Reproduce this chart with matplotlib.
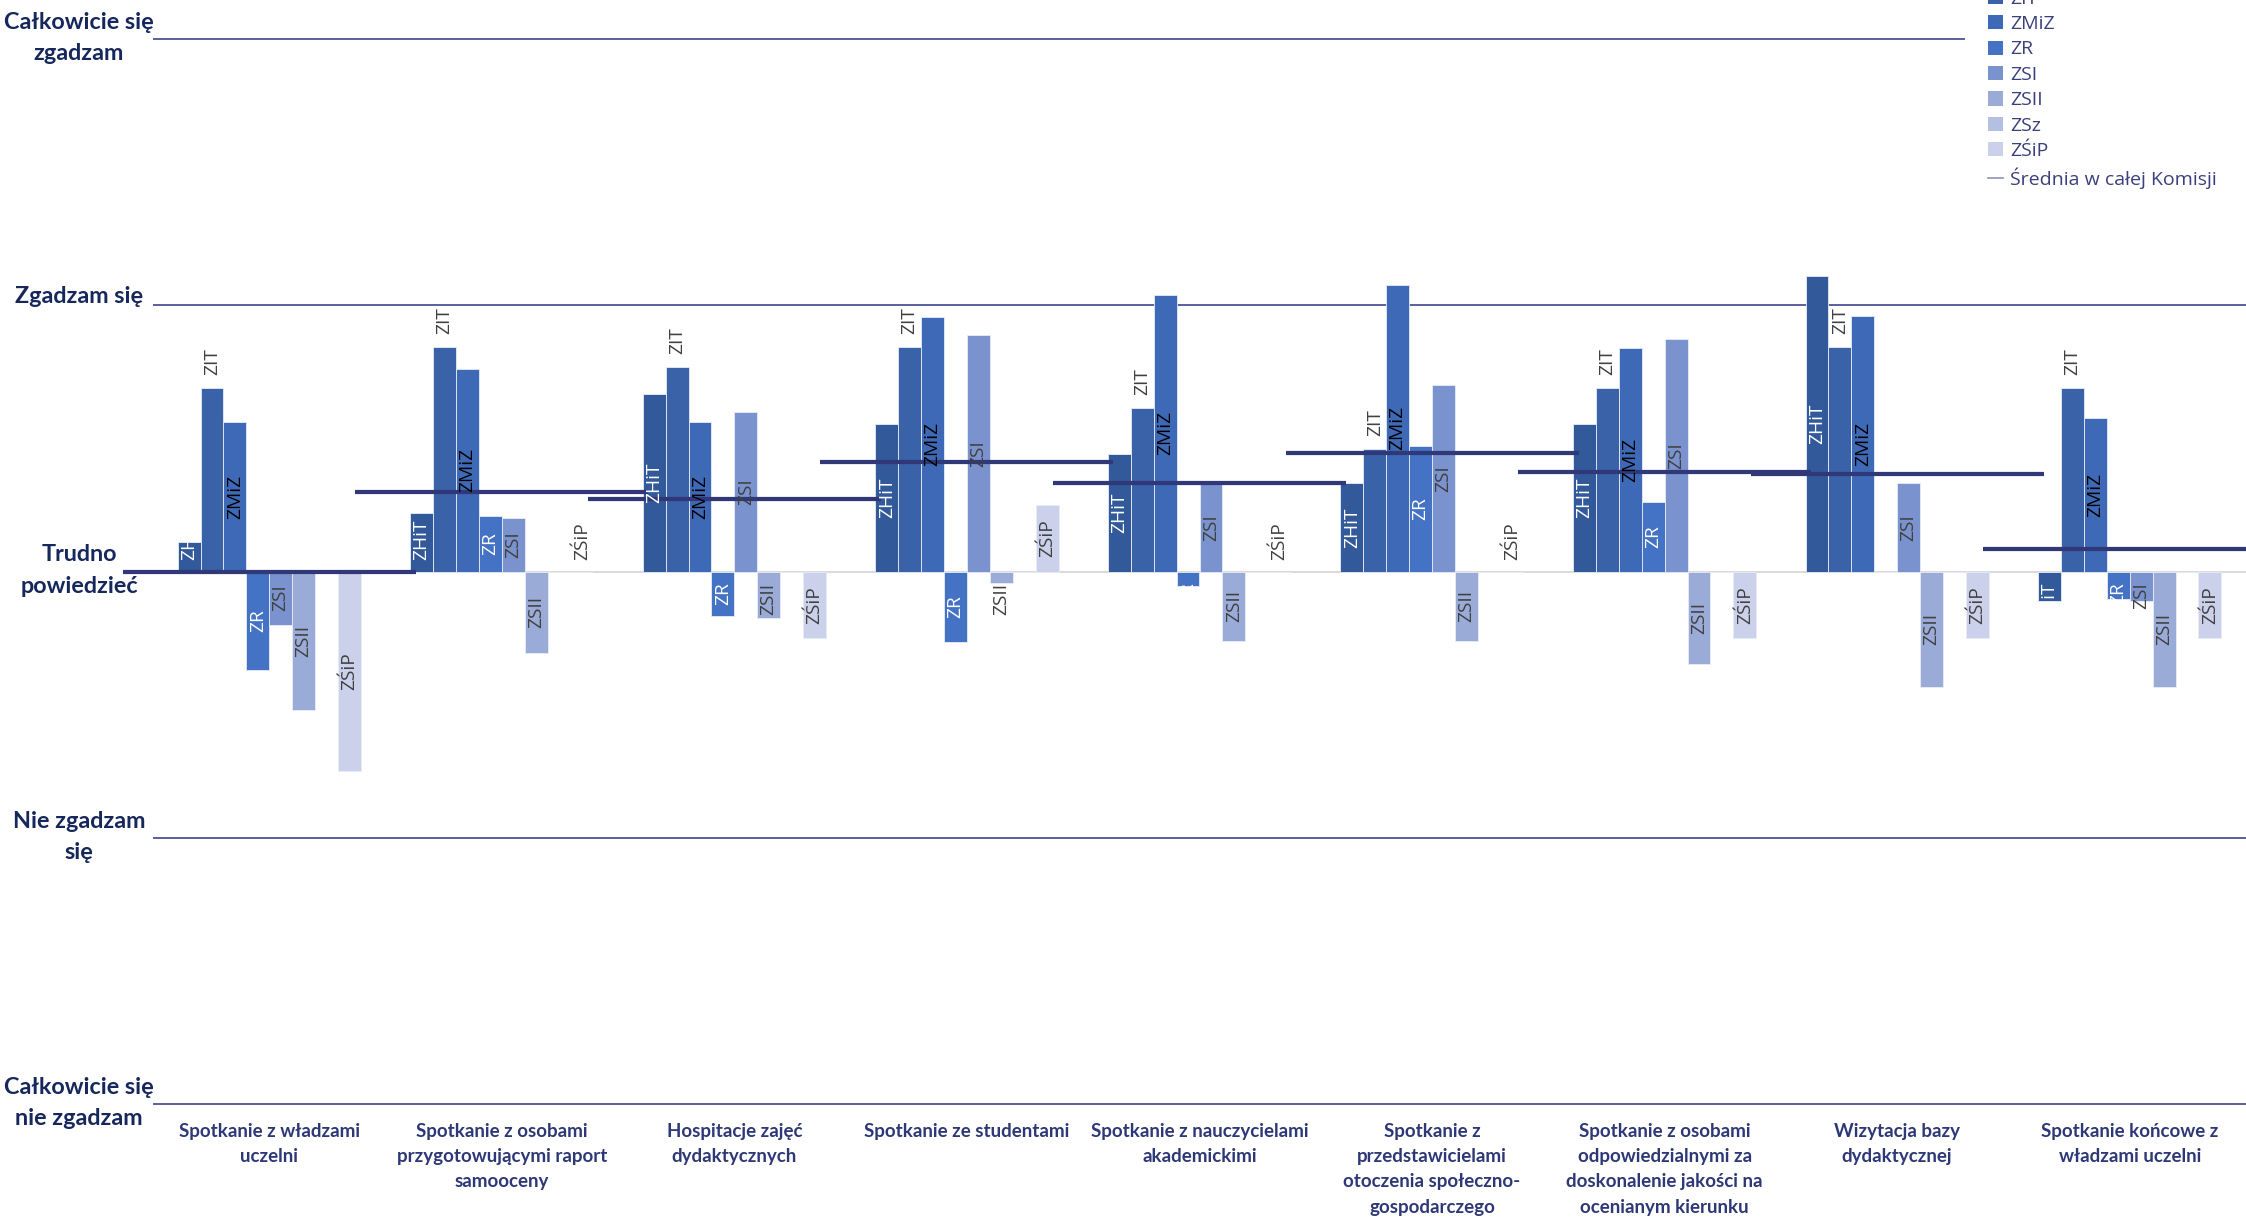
import matplotlib
matplotlib.use('Agg')
import matplotlib.pyplot as plt
import matplotlib.transforms as mtransforms
from matplotlib.patches import Patch
from matplotlib.lines import Line2D
import numpy as np

nan = np.nan

categories = ['Spotkanie z władzami\nuczelni',
              'Spotkanie z osobami\nprzygotowującymi raport\nsamooceny',
              'Hospitacje zajęć\ndydaktycznych',
              'Spotkanie ze studentami',
              'Spotkanie z nauczycielami\nakademickimi',
              'Spotkanie z\nprzedstawicielami\notoczenia społeczno-\ngospodarczego',
              'Spotkanie z osobami\nodpowiedzialnymi za\ndoskonalenie jakości na\nocenianym kierunku',
              'Wizytacja bazy\ndydaktycznej',
              'Spotkanie końcowe z\nwładzami uczelni']

series_names = ['ZHiT', 'ZIT', 'ZMiZ', 'ZR', 'ZSI', 'ZSII', 'ZSz', 'ZŚiP']
zhit = [0.11, 0.22, 0.665, 0.554, 0.443, 0.331, 0.554, 1.11, -0.11]
zit = [0.69, 0.845, 0.77, 0.845, 0.614, 0.46, 0.69, 0.845, 0.69]
zmiz = [0.56, 0.76, 0.56, 0.957, 1.038, 1.078, 0.838, 0.96, 0.575]
zr = [-0.37, 0.21, -0.167, -0.263, -0.053, 0.472, 0.262, nan, -0.105]
zsi = [-0.20, 0.20, 0.60, 0.887, 0.328, 0.70, 0.873, 0.331, -0.11]
zsii = [-0.52, -0.305, -0.174, -0.044, -0.26, -0.26, -0.348, -0.434, -0.434]
zsz = [nan, nan, nan, nan, nan, nan, nan, nan, nan]
zsip = [-0.75, 0.0, -0.25, 0.25, 0.0, 0.0, -0.249, -0.249, -0.249]
mean_all = [0.0, 0.30, 0.273, 0.413, 0.334, 0.446, 0.374, 0.367, 0.086]
mean_name = 'Średnia w całej Komisji'

level_values = [-2, -1, 0, 1, 2]
level_labels = ['Całkowicie się\nnie zgadzam', 'Nie zgadzam\nsię', 'Trudno\npowiedzieć',
                'Zgadzam się', 'Całkowicie się\nzgadzam']

series_values = [zhit, zit, zmiz, zr, zsi, zsii, zsz, zsip]
colors = ['#32599A', '#3962A8', '#3E69B6', '#4472C4', '#7A92CD', '#9AABD7', '#B4C0E2', '#CBD1EA']
text_colors = ['white', '#404040', 'black', 'white', '#404040', '#404040', '#404040', '#404040']
label_end = [False, True, False, False, False, False, False, False]

navy = '#16275C'
cat_color = '#2E3876'
grid_color = '#4B5394'
mean_color = '#303878'

W, H = 2246, 1219
dpi = 100
fig = plt.figure(figsize=(W / dpi, H / dpi), dpi=dpi)

unit_px = 266.2
ylim = 2.02
ax_h = 2 * ylim * unit_px
ax_bottom = 1 - (571.5 + ylim * unit_px) / H
left = 153 / W
ax = fig.add_axes([left, ax_bottom, 1 - left, ax_h / H])
ax.set_xlim(-0.5, 8.5)
ax.set_ylim(-ylim, ylim)
for s in ax.spines.values():
    s.set_visible(False)

x = np.arange(len(categories))
w = 0.0985
pt_per_px = 72 / dpi
lab_size = 13.8

# bars
bar_texts = []
for j, (name, vals) in enumerate(zip(series_names, series_values)):
    vals = np.array(vals, dtype=float)
    xs = x + (j - 3.5) * w
    ax.bar(xs, np.nan_to_num(vals), width=w, color=colors[j], edgecolor='#E8ECF6',
           linewidth=0.6, zorder=2)
    for xi, v in zip(xs, vals):
        if np.isnan(v):
            continue
        if label_end[j]:
            ax.annotate(name, xy=(xi, v), xytext=(0, 13 * pt_per_px), textcoords='offset points',
                        rotation=90, ha='center', va='bottom', color=text_colors[j],
                        fontsize=lab_size, family='Open Sans', zorder=5)
        else:
            t = ax.text(xi, v / 2, name, rotation=90, ha='center', va='center',
                        color=text_colors[j], fontsize=lab_size, family='Open Sans', zorder=5)
            bar_texts.append((t, xi, v))

# mean lines
ax.hlines(mean_all, x - 0.63, x + 0.63, color=mean_color, linewidth=4.2 * pt_per_px,
          zorder=3, clip_on=False)

# shift centered labels that do not fit away from zero
fig.canvas.draw()
r = fig.canvas.get_renderer()
gap = 11
for t, xi, v in bar_texts:
    L = t.get_window_extent(r).height
    half_bar = abs(v) * unit_px / 2
    if half_bar - L / 2 < gap:
        sign = -1 if v < 0 else 1
        t.remove()
        ax.annotate(t.get_text(), xy=(xi, 0), xytext=(0, sign * gap * pt_per_px),
                    textcoords='offset points', rotation=90, ha='center',
                    va='top' if sign < 0 else 'bottom', color=t.get_color(),
                    fontsize=lab_size, family='Open Sans', zorder=5)

# grid lines
ax.set_yticks(level_values)
ax.set_yticklabels([])
ax.yaxis.grid(True, color=grid_color, linewidth=1.3, zorder=0)
ax.get_ygridlines()[2].set_color('#D9D9D9')
ax.get_ygridlines()[2].set_linewidth(1.4)
ax.set_axisbelow(True)
ax.tick_params(axis='y', length=0)

# level names left of the plot
base_tr = mtransforms.blended_transform_factory(fig.transFigure, ax.transData)
for lv, txt in zip(level_values, level_labels):
    shift = 1 if '\n' in txt else 9
    tr = base_tr + mtransforms.ScaledTranslation(0, shift / dpi, fig.dpi_scale_trans)
    ax.text(79 / W, lv, txt, transform=tr, ha='center', va='center',
            multialignment='center', family='Lato', weight='bold', fontsize=16.8,
            color=navy, linespacing=1.6, clip_on=False)

ax.set_xticks(x)
ax.set_xticklabels(categories, family='Lato', weight='bold', fontsize=13.5, color=cat_color,
                   linespacing=1.58)
ax.tick_params(axis='x', length=0, pad=14 * pt_per_px)

# legend
handles = [Patch(facecolor=c, edgecolor='none') for c in colors]
handles.append(Line2D([0], [0], color='#8E94B5', linewidth=1.2))
fig.legend(handles, series_names + [mean_name], loc='lower left',
           bbox_to_anchor=(1955 / W, 1 - 222 / H, 1 - 1955 / W + 0.01, 0.2), mode='expand',
           frameon=True, facecolor='white',
           edgecolor='none', framealpha=1, fancybox=False, borderpad=1.2,
           handlelength=0.75, handleheight=0.75, handletextpad=0.4, labelspacing=0.38,
           prop=dict(family='Open Sans', size=14), labelcolor='#3B3F7C')

fig.savefig('out.png', dpi=dpi)
